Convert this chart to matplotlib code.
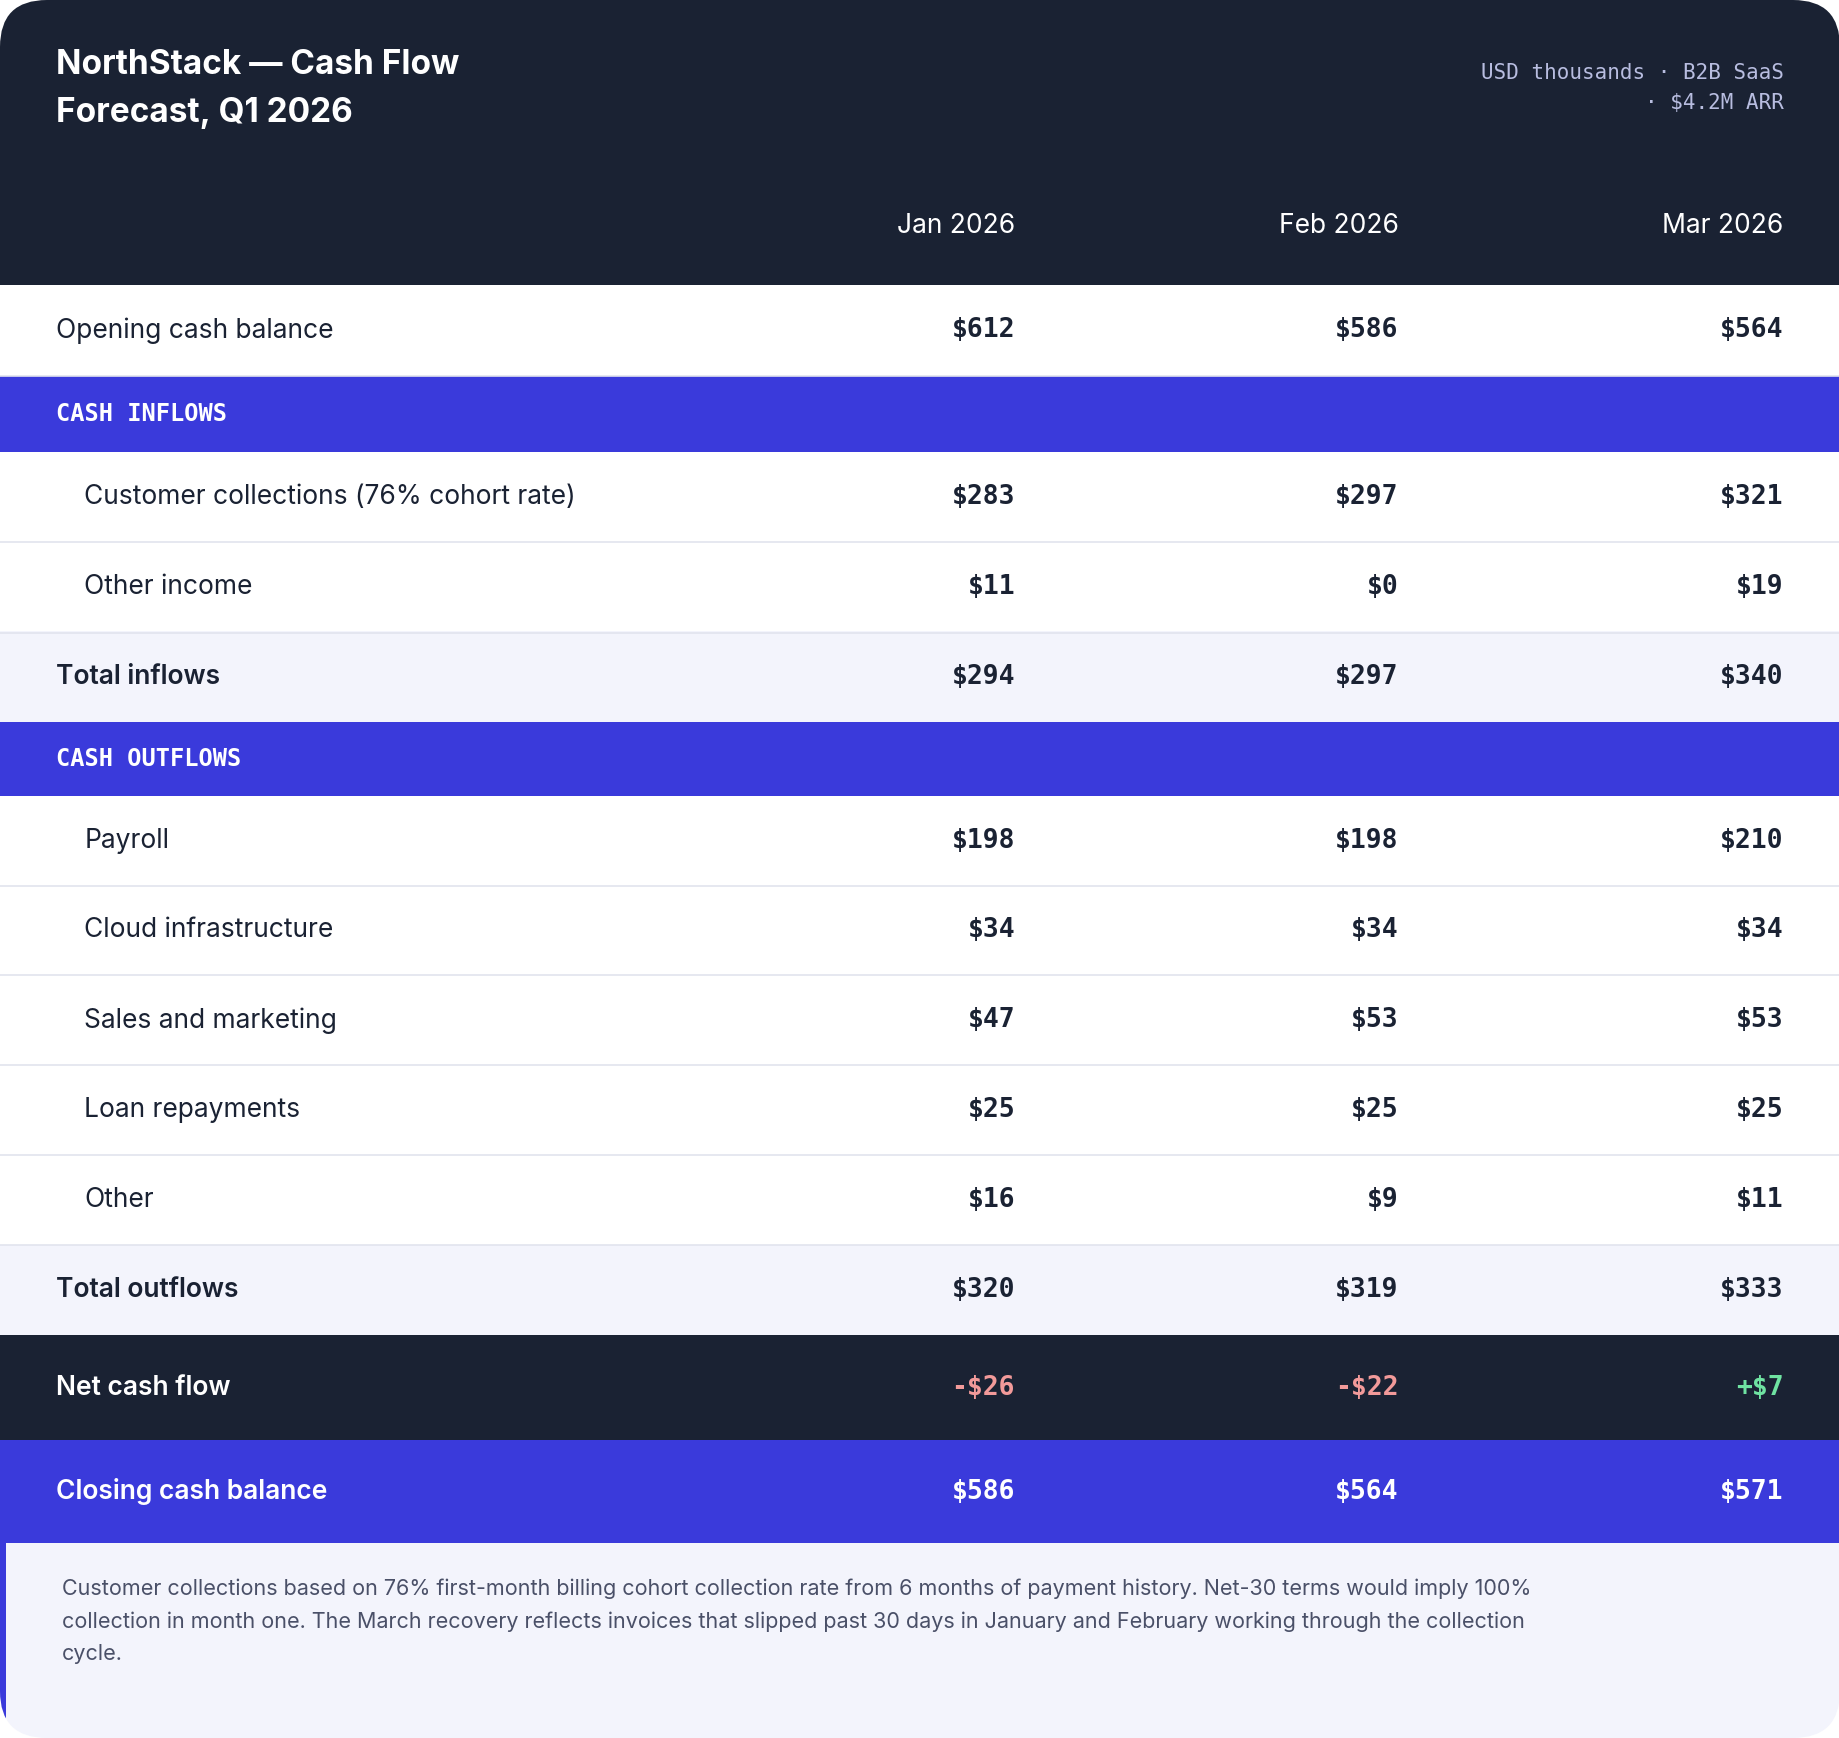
import matplotlib.pyplot as plt
from matplotlib.patches import Rectangle, FancyBboxPatch

# --- data ---
months = ["Jan 2026", "Feb 2026", "Mar 2026"]
opening = ["$612", "$586", "$564"]
inflow_labels = ["Customer collections (76% cohort rate)", "Other income"]
inflow_vals = [["$283", "$297", "$321"], ["$11", "$0", "$19"]]
total_in = ["$294", "$297", "$340"]
outflow_labels = ["Payroll", "Cloud infrastructure", "Sales and marketing", "Loan repayments", "Other"]
outflow_vals = [["$198", "$198", "$210"], ["$34", "$34", "$34"], ["$47", "$53", "$53"],
                ["$25", "$25", "$25"], ["$16", "$9", "$11"]]
total_out = ["$320", "$319", "$333"]
net = ["-$26", "-$22", "+$7"]
closing = ["$586", "$564", "$571"]
note = ("Customer collections based on 76% first-month billing cohort collection rate from 6 months of payment history. Net-30 terms would imply 100%\n"
        "collection in month one. The March recovery reflects invoices that slipped past 30 days in January and February working through the collection\n"
        "cycle.")

DARK = "#1a2233"
BLUE = "#3a3adb"
LIGHT = "#f3f4fc"
LINE = "#e2e4ee"
TXT = "#1a2233"
SANS = ["Inter", "DejaVu Sans"]
MONO = ["DejaVu Sans Mono"]

W, H = 1568, 1481
fig = plt.figure(figsize=(18.4, 17.38), dpi=100)
ax = fig.add_axes([0, 0, 1, 1])
ax.set_xlim(0, W)
ax.set_ylim(H, 0)
ax.axis("off")

card = FancyBboxPatch((0, 0), W, H, boxstyle="round,pad=0,rounding_size=40",
                      facecolor="white", edgecolor="none")
ax.add_patch(card)

def band(y0, y1, color):
    r = Rectangle((0, y0), W, y1 - y0, facecolor=color, edgecolor="none")
    ax.add_patch(r)
    r.set_clip_path(card)

colx = [865, 1192, 1520]
fs = 19

# header
band(0, 243, DARK)
ax.text(48, 55, "NorthStack — Cash Flow", color="white", fontsize=24, fontweight="bold", family=SANS, va="center")
ax.text(48, 96, "Forecast, Q1 2026", color="white", fontsize=24, fontweight="bold", family=SANS, va="center")
ax.text(1520, 62, "USD thousands · B2B SaaS", color="#b8bde0", fontsize=15, family=MONO, va="center", ha="right")
ax.text(1520, 88, "· $4.2M ARR", color="#b8bde0", fontsize=15, family=MONO, va="center", ha="right")
for x, m in zip(colx, months):
    ax.text(x, 193, m, color="white", fontsize=fs, family=SANS, va="center", ha="right")

def row(y0, y1, label, vals, indent=False, bg="white", bold=False, line=True,
        lcolor=TXT, vcolors=None):
    band(y0, y1, bg)
    if line:
        ax.plot([0, W], [y1, y1], color=LINE, lw=1.2)
    yc = (y0 + y1) / 2
    ax.text(72 if indent else 48, yc, label, color=lcolor, fontsize=fs, family=SANS,
            fontweight="semibold" if bold else "normal", va="center")
    for i, (x, v) in enumerate(zip(colx, vals)):
        c = vcolors[i] if vcolors else lcolor
        ax.text(x, yc, v, color=c, fontsize=fs, family=MONO, fontweight="bold", va="center", ha="right")

def section(y0, y1, title):
    band(y0, y1, BLUE)
    ax.text(48, (y0 + y1) / 2, title, color="white", fontsize=17, family=MONO,
            fontweight="bold", va="center")

row(243, 320, "Opening cash balance", opening)
section(320, 385, "CASH INFLOWS")
y = 385
for lab, vals in zip(inflow_labels, inflow_vals):
    row(y, y + 77, lab, vals, indent=True)
    y += 77
row(538, 615, "Total inflows", total_in, bg=LIGHT, bold=True, line=False)
section(615, 678, "CASH OUTFLOWS")
y = 678
for lab, vals in zip(outflow_labels, outflow_vals):
    row(y, y + 76.6, lab, vals, indent=True)
    y += 76.6
row(1061, 1138, "Total outflows", total_out, bg=LIGHT, bold=True, line=False)
net_colors = ["#f29a9a" if v.startswith("-") else "#6fe3a2" for v in net]
row(1138, 1227, "Net cash flow", net, bg=DARK, bold=True, line=False, lcolor="white", vcolors=net_colors)
row(1227, 1315, "Closing cash balance", closing, bg=BLUE, bold=True, line=False, lcolor="white")

# footer note
band(1315, H, LIGHT)
r = Rectangle((0, 1315), 5, H - 1315, facecolor=BLUE, edgecolor="none")
ax.add_patch(r)
r.set_clip_path(card)
ax.text(53, 1345, note, color="#4a5068", fontsize=15.5, family=SANS, va="top", linespacing=1.75)

fig.savefig("out.png", dpi=100, facecolor="white")
